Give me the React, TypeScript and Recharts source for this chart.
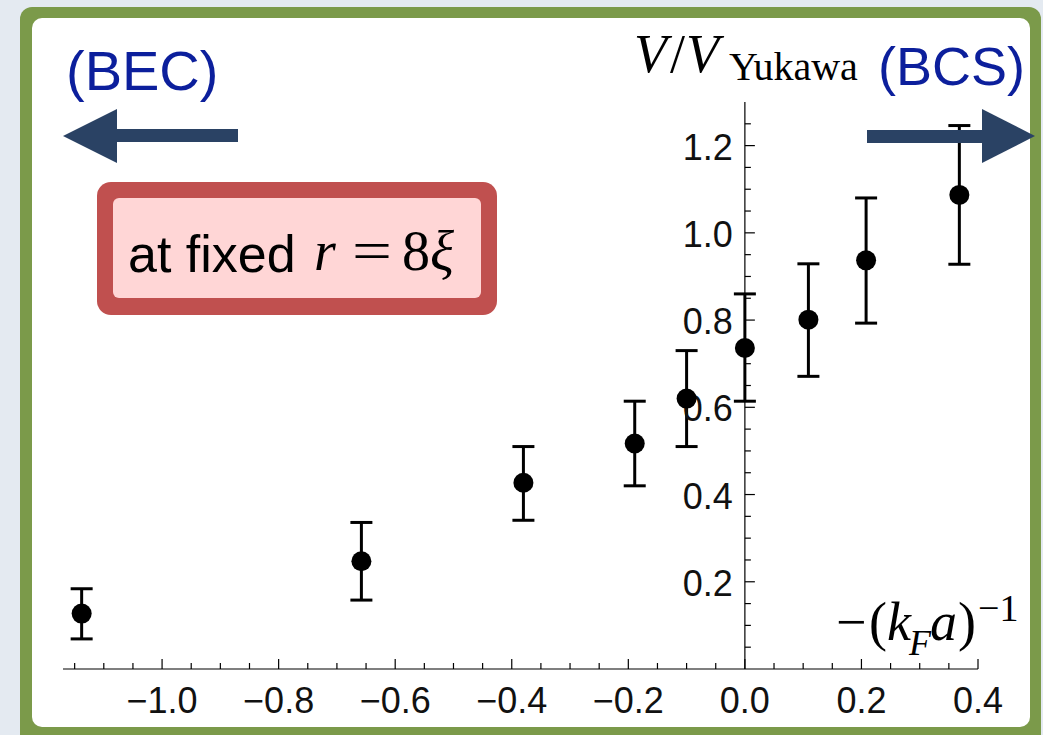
import { ScatterChart, Scatter, XAxis, YAxis, ErrorBar, ReferenceLine, ReferenceDot } from 'recharts';

// -(k_F a)^-1 and V / V_Yukawa at fixed r = 8 xi
const xVals = [-1.138, -0.658, -0.38, -0.189, -0.1, 0.0, 0.109, 0.208, 0.368];
const yVals = [0.127, 0.247, 0.427, 0.517, 0.62, 0.736, 0.801, 0.937, 1.087];
const yLow = [0.069, 0.158, 0.341, 0.42, 0.51, 0.614, 0.671, 0.793, 0.928];
const yHigh = [0.184, 0.336, 0.51, 0.614, 0.73, 0.86, 0.929, 1.08, 1.246];

const xMajorTicks = [-1.0, -0.8, -0.6, -0.4, -0.2, 0.0, 0.2, 0.4];
const xMinorTicks = [-1.15, -1.1, -1.05, -0.95, -0.9, -0.85, -0.75, -0.7, -0.65, -0.55, -0.5, -0.45, -0.35, -0.3, -0.25, -0.15, -0.1, -0.05, 0.05, 0.1, 0.15, 0.25, 0.3, 0.35];
const yMajorTicks = [0.2, 0.4, 0.6, 0.8, 1.0, 1.2];
const yMinorTicks = [0.05, 0.1, 0.15, 0.25, 0.3, 0.35, 0.45, 0.5, 0.55, 0.65, 0.7, 0.75, 0.85, 0.9, 0.95, 1.05, 1.1, 1.15, 1.25];

const data = xVals.map((x, i) => ({
  x,
  y: yVals[i],
  err: [yVals[i] - yLow[i], yHigh[i] - yVals[i]],
}));

const allXTicks = [...xMajorTicks, ...xMinorTicks].sort((a, b) => a - b);

const SANS = '"Liberation Sans", Arial, sans-serif';
const SERIF = '"Liberation Serif", "Times New Roman", serif';
const NAVY = '#2a4264';
const BLUE = '#0c1f9c';

const fmt = (v: number) => (v < 0 ? '\u2212' + Math.abs(v).toFixed(1) : v.toFixed(1));

function XTick(props: any) {
  const { x, y, payload } = props;
  const major = xMajorTicks.includes(payload.value);
  return (
    <g>
      <line x1={x} y1={y} x2={x} y2={y - (major ? 10 : 6)} stroke="#000" strokeWidth={1.2} />
      {major && (
        <text x={x} y={y + 44} textAnchor="middle" fontFamily={SANS} fontSize={36} fill="#111">
          {fmt(payload.value)}
        </text>
      )}
    </g>
  );
}

function yTickShape(major: boolean, value: number) {
  return (p: any) => (
    <g>
      <line x1={p.cx} y1={p.cy} x2={p.cx + (major ? 10 : 6)} y2={p.cy} stroke="#000" strokeWidth={1.2} />
      {major && (
        <text x={p.cx - 12} y={p.cy + 14} textAnchor="end" fontFamily={SANS} fontSize={36} fill="#111">
          {fmt(value)}
        </text>
      )}
    </g>
  );
}

const Dot = (p: any) => <circle cx={p.cx} cy={p.cy} r={10} fill="#000" />;

export default function App() {
  return (
    <div style={{ position: 'fixed', left: 0, top: 0, width: 1043, height: 735, background: '#e4eaf1', overflow: 'hidden' }}>
      <svg width={1043} height={735} style={{ position: 'absolute', left: 0, top: 0 }}>
        <rect x={20} y={7} width={1021} height={745} rx={12} fill="#7b9a4a" />
        <rect x={32} y={18} width={998} height={709} rx={10} fill="#ffffff" />
        <rect x={97} y={182} width={400} height={133} rx={14} fill="#c0504f" />
        <rect x={113} y={198} width={368} height={100} rx={6} fill="#ffd6d6" />
        <text x={128} y={272} fontFamily={SANS} fontSize={52} fill="#000">at fixed</text>
        <text y={270} fontFamily={SERIF} fontSize={56} fill="#000">
          <tspan x={314} fontStyle="italic">r</tspan>
          <tspan x={352} textLength={40} lengthAdjust="spacingAndGlyphs">=</tspan>
          <tspan x={402}>8</tspan>
          <tspan x={430} fontStyle="italic">ξ</tspan>
        </text>
        <text fontFamily={SERIF} fill="#000">
          <tspan x={634} y={72} fontSize={54} fontStyle="italic">V</tspan>
          <tspan x={670} y={72} fontSize={54}>/</tspan>
          <tspan x={686} y={72} fontSize={54} fontStyle="italic">V</tspan>
          <tspan x={729} y={80} fontSize={40}>Yukawa</tspan>
        </text>
        <text fontFamily={SERIF} fill="#000">
          <tspan x={836} y={640} fontSize={54}>{'\u2212'}</tspan>
          <tspan x={869} y={640} fontSize={54}>(</tspan>
          <tspan x={887} y={640} fontSize={54} fontStyle="italic">k</tspan>
          <tspan x={909} y={655} fontSize={36} fontStyle="italic">F</tspan>
          <tspan x={930} y={640} fontSize={54} fontStyle="italic">a</tspan>
          <tspan x={958} y={640} fontSize={54}>)</tspan>
          <tspan x={978} y={621} fontSize={38}>{'\u2212'}1</tspan>
        </text>
      </svg>

      <div style={{ position: 'absolute', left: 0, top: 0 }}>
        <ScatterChart width={1043} height={735} margin={{ top: 102, right: 65, bottom: 26, left: 63 }}>
          <XAxis
            type="number"
            dataKey="x"
            domain={[-1.17, 0.4]}
            ticks={allXTicks}
            interval={0}
            height={40}
            tickSize={0}
            tickMargin={0}
            tickLine={false}
            axisLine={{ stroke: '#000', strokeWidth: 1.2 }}
            tick={<XTick />}
            allowDataOverflow
          />
          <YAxis type="number" dataKey="y" domain={[0, 1.3]} hide allowDataOverflow />
          <ReferenceLine x={0} stroke="#000" strokeWidth={1.2} />
          {yMinorTicks.map((v) => (
            <ReferenceDot key={'m' + v} x={0} y={v} r={0} shape={yTickShape(false, v)} />
          ))}
          {yMajorTicks.map((v) => (
            <ReferenceDot key={'M' + v} x={0} y={v} r={0} shape={yTickShape(true, v)} />
          ))}
          <Scatter data={data} fill="#000" shape={Dot} isAnimationActive={false}>
            <ErrorBar dataKey="err" direction="y" width={11} strokeWidth={3} stroke="#000" isAnimationActive={false} />
          </Scatter>
        </ScatterChart>
      </div>

      <svg width={1043} height={735} style={{ position: 'absolute', left: 0, top: 0, pointerEvents: 'none' }}>
        <rect x={117} y={129} width={121} height={13} fill={NAVY} />
        <polygon points="117,109 117,163 63,136" fill={NAVY} />
        <rect x={867} y={130} width={115} height={13} fill={NAVY} />
        <polygon points="982,109 982,163 1035,136" fill={NAVY} />
        <text x={66} y={90} fontFamily={SANS} fontSize={56} fill={BLUE}>(BEC)</text>
        <text x={878} y={85} fontFamily={SANS} fontSize={54} fill={BLUE}>(BCS)</text>
      </svg>
    </div>
  );
}
